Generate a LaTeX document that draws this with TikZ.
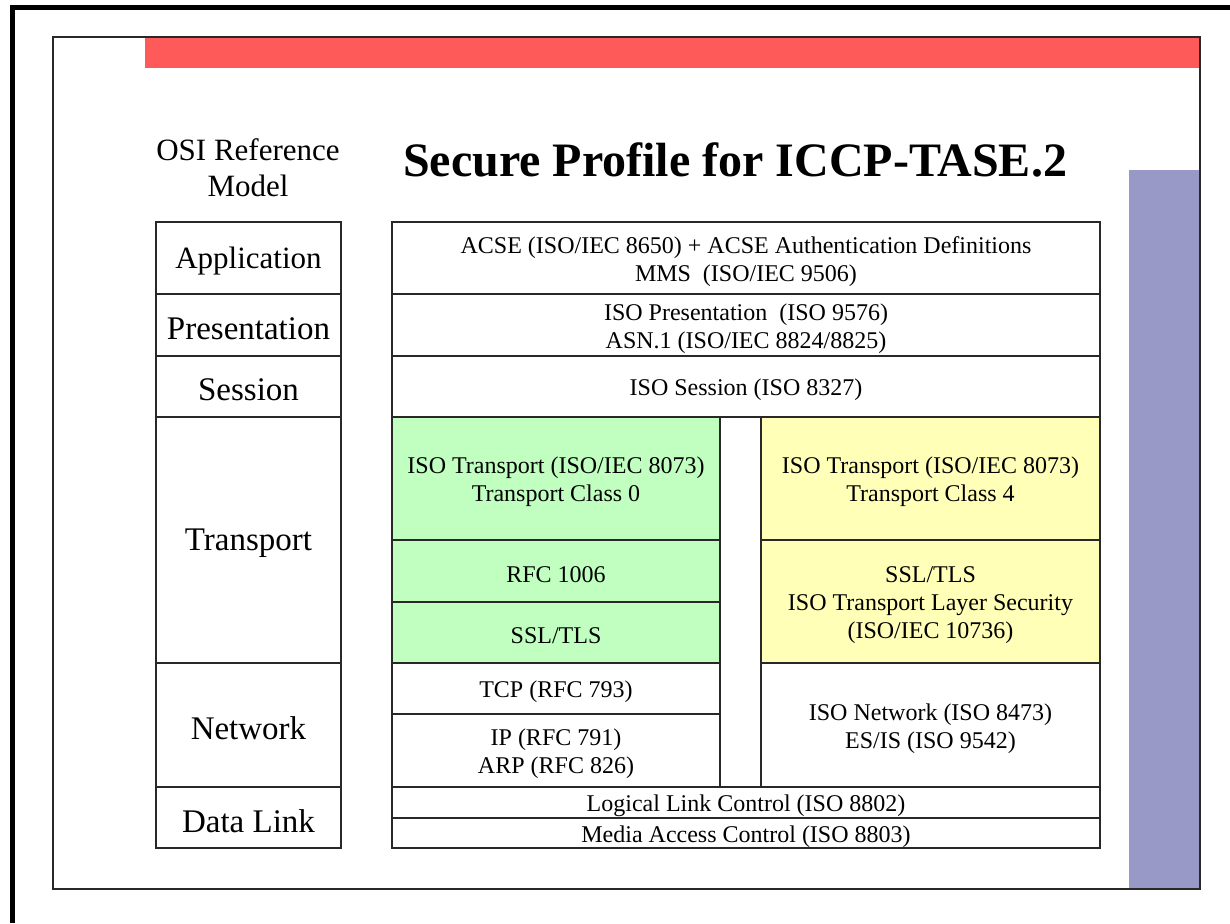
\documentclass[tikz,border=0pt]{standalone}
\usepackage{fontspec}
\setmainfont{Liberation Serif}
\definecolor{redbar}{RGB}{255,90,90}
\definecolor{purplebar}{RGB}{153,153,200}
\definecolor{greencell}{RGB}{192,255,192}
\definecolor{yellowcell}{RGB}{255,255,184}
\definecolor{edge}{RGB}{40,40,40}
\tikzset{
  cell/.style={draw=edge, line width=1.4pt, inner sep=0pt},
  greenbox/.style={cell, fill=greencell},
  yellowbox/.style={cell, fill=yellowcell},
  txtlbl/.style={align=center, inner sep=0pt, yshift=-3.5pt, font=\fontsize{24}{28}\selectfont},
  txt/.style={label={[txtlbl]center:{#1}}},
  ositxt/.style={label={[txtlbl, font=\fontsize{33}{36}\selectfont]center:{#1}}},
  apptxt/.style={label={[txtlbl, font=\fontsize{31}{36}\selectfont]center:{#1}}},
}
\begin{document}
\begin{tikzpicture}[x=1pt,y=-1pt]
\useasboundingbox (0,0) rectangle (1230,923);
% outer frame lines
\draw[line width=5pt, black] (12.5,923) -- (12.5,7.5) -- (1230,7.5);
% slide
\fill[white] (53,37) rectangle (1200,889);
\fill[redbar] (145,37) rectangle (1200,68);
\fill[purplebar] (1129,170) rectangle (1200,889);
\draw[line width=1.6pt, edge] (53,37) rectangle (1200,889);
% headings
\node[align=center, font=\fontsize{31}{36}\selectfont] (osihead) at (248,167.5) {OSI Reference\\Model};
\node[anchor=base, font=\bfseries\fontsize{48}{52}\selectfont] (title) at (735,176) {Secure Profile for ICCP-TASE.2};
% OSI column
\node[cell, minimum width=185pt, minimum height=72pt, apptxt={Application}] (app) at (248.5,258) {};
\node[cell, minimum width=185pt, minimum height=62pt, ositxt={Presentation}] (pres) at (248.5,325) {};
\node[cell, minimum width=185pt, minimum height=61pt, ositxt={Session}] (sess) at (248.5,386.5) {};
\node[cell, minimum width=185pt, minimum height=246pt, ositxt={Transport}] (trans) at (248.5,540) {};
\node[cell, minimum width=185pt, minimum height=124pt, ositxt={Network}] (net) at (248.5,725) {};
\node[cell, minimum width=185pt, minimum height=61pt, ositxt={Data Link}] (dl) at (248.5,817.5) {};
% profile column
\node[cell, minimum width=708pt, minimum height=72pt, txt={ACSE (ISO/IEC 8650) + ACSE Authentication Definitions\\MMS~ (ISO/IEC 9506)}] (acse) at (746,258) {};
\node[cell, minimum width=708pt, minimum height=62pt, txt={ISO Presentation~ (ISO 9576)\\ASN.1 (ISO/IEC 8824/8825)}] (isopres) at (746,325) {};
\node[cell, minimum width=708pt, minimum height=61pt, txt={ISO Session (ISO 8327)}] (isosess) at (746,386.5) {};
\node[greenbox, minimum width=328pt, minimum height=123pt, txt={ISO Transport (ISO/IEC 8073)\\Transport Class 0}] (tp0) at (556,478.5) {};
\node[greenbox, minimum width=328pt, minimum height=62pt, txt={RFC 1006}] (rfc) at (556,571) {};
\node[greenbox, minimum width=328pt, minimum height=61pt, txt={SSL/TLS}] (ssl) at (556,632.5) {};
\node[yellowbox, minimum width=339pt, minimum height=123pt, txt={ISO Transport (ISO/IEC 8073)\\Transport Class 4}] (tp4) at (930.5,478.5) {};
\node[yellowbox, minimum width=339pt, minimum height=123pt, txt={SSL/TLS\\ISO Transport Layer Security\\(ISO/IEC 10736)}] (tls) at (930.5,601.5) {};
\node[cell, minimum width=328pt, minimum height=51pt, txt={TCP (RFC 793)}] (tcp) at (556,688.5) {};
\node[cell, minimum width=328pt, minimum height=73pt, txt={IP (RFC 791)\\ARP (RFC 826)}] (ip) at (556,750.5) {};
\node[cell, minimum width=339pt, minimum height=124pt, txt={ISO Network (ISO 8473)\\ES/IS (ISO 9542)}] (isonet) at (930.5,725) {};
\node[cell, minimum width=708pt, minimum height=31pt, txt={Logical Link Control (ISO 8802)}] (llc) at (746,802.5) {};
\node[cell, minimum width=708pt, minimum height=30pt, txt={Media Access Control (ISO 8803)}] (mac) at (746,833) {};
\end{tikzpicture}
\end{document}
